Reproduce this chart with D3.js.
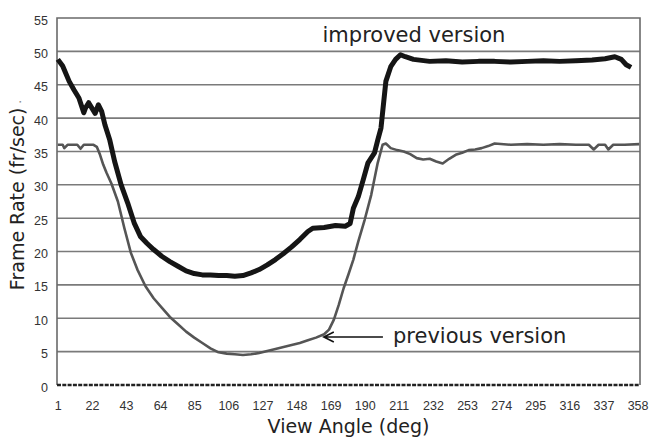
<!DOCTYPE html>
<html>
<head>
<meta charset="utf-8">
<script src="https://cdn.jsdelivr.net/npm/d3@7"></script>
<style>
  body { margin: 0; background: #fff; }
  svg { display: block; }
  .tick text { font-family: "Liberation Sans", Arial, sans-serif; font-size: 12.5px; fill: #333; }
  .title { font-family: "DejaVu Sans", sans-serif; font-size: 19px; fill: #222; }
  .note { font-family: "DejaVu Sans", sans-serif; font-size: 21px; fill: #222; }
</style>
</head>
<body>
<svg id="chart" width="649" height="438"></svg>
<script>
// view angles (deg) and frame rates (fr/sec)
const improvedAngle = [1, 4, 8, 11, 14, 17, 18, 20, 22, 24, 26, 28, 30, 33, 36, 40, 44, 48, 52, 56,
  60, 65, 70, 75, 80, 85, 90, 95, 100, 105, 110, 115, 120, 125, 130, 135, 140, 145, 150, 155,
  158, 165, 172, 178, 181, 183, 186, 189, 192, 196, 198, 200, 203, 206, 209, 212, 215, 220, 230,
  240, 250, 260, 270, 280, 290, 300, 310, 320, 330, 338, 344, 348, 351, 354];
const improvedRate = [48.8, 47.8, 45.5, 44.2, 43, 40.8, 41.5, 42.3, 41.5, 40.7, 42, 41, 39, 36.7, 33.5, 30, 27.3, 24.3, 22.2, 21.2,
  20.3, 19.3, 18.5, 17.8, 17.1, 16.7, 16.5, 16.5, 16.4, 16.4, 16.3, 16.4, 16.8, 17.3, 18, 18.8, 19.7, 20.7, 21.8, 23,
  23.5, 23.6, 23.9, 23.8, 24.2, 26.5, 28.2, 30.7, 33.3, 34.8, 36.7, 38.5, 45.5, 47.7, 48.8, 49.5, 49.2, 48.8, 48.5,
  48.6, 48.4, 48.5, 48.5, 48.4, 48.5, 48.6, 48.5, 48.6, 48.7, 48.9, 49.2, 48.8, 48, 47.6];

const previousAngle = [1, 4, 5, 7, 10, 13, 15, 17, 20, 23, 25, 27, 29, 31, 34, 38, 42, 46, 50, 55,
  60, 65, 70, 75, 80, 85, 90, 95, 100, 105, 110, 115, 120, 125, 130, 135, 140, 145, 150, 155,
  160, 165, 168, 171, 174, 177, 180, 183, 186, 190, 194, 198, 201, 203, 206, 210, 214, 218, 222,
  226, 230, 234, 238, 242, 246, 250, 254, 258, 262, 266, 270, 280, 290, 300, 310, 320, 328, 331,
  334, 338, 340, 343, 350, 359];
const previousRate = [36, 36, 35.5, 36, 36, 36, 35.4, 36, 36, 36, 35.7, 34.5, 33, 31.8, 30.2, 27.5, 23.5, 19.8, 17.3, 14.8,
  13, 11.6, 10.2, 9.1, 8, 7.1, 6.3, 5.5, 4.9, 4.7, 4.6, 4.5, 4.6, 4.8, 5.1, 5.4, 5.7, 6, 6.3, 6.7,
  7.1, 7.6, 8.3, 9.8, 12, 14.5, 16.6, 18.8, 21.5, 24.8, 28.5, 33.3, 36, 36.2, 35.5, 35.2, 35, 34.6, 34,
  33.8, 33.9, 33.5, 33.2, 33.9, 34.5, 34.8, 35.2, 35.3, 35.5, 35.8, 36.2, 36, 36.1, 36, 36.1, 36, 36, 35.3,
  36, 36, 35.3, 36, 36, 36.1];

const xTicks = d3.range(1, 359, 21);   // 1, 22, ... 358
const yTicks = d3.range(0, 56, 5);

const svg = d3.select("#chart");
const margin = { top: 18, right: 9, bottom: 53, left: 57 };
const W = 649, H = 438;

const x = d3.scaleLinear().domain([0.5, 359.5]).range([margin.left, W - margin.right]);
const y = d3.scaleLinear().domain([0, 55]).range([H - margin.bottom, margin.top]);

// gridlines
svg.append("g")
  .selectAll("line")
  .data(yTicks.filter(d => d > 0 && d < 55))
  .join("line")
  .attr("x1", x.range()[0]).attr("x2", x.range()[1])
  .attr("y1", d => y(d)).attr("y2", d => y(d))
  .attr("stroke", "#7a7a7a")
  .attr("stroke-width", 1.6);

// plot frame (top, left, right)
svg.append("path")
  .attr("d", `M${x.range()[0]},${y(0)}V${y(55)}H${x.range()[1]}V${y(0)}`)
  .attr("fill", "none")
  .attr("stroke", "#6a6a6a")
  .attr("stroke-width", 1.6);

// category axis line (dense ticks look dashed)
svg.append("line")
  .attr("x1", x.range()[0]).attr("x2", x.range()[1])
  .attr("y1", y(0)).attr("y2", y(0))
  .attr("stroke", "#222")
  .attr("stroke-width", 2.5)
  .attr("stroke-dasharray", "4,1.3");

// axes
const gx = svg.append("g")
  .attr("transform", `translate(0,${y(0) + 16})`)
  .call(d3.axisBottom(x).tickValues(xTicks).tickSize(0).tickPadding(0));
gx.select(".domain").remove();

const gy = svg.append("g")
  .attr("transform", `translate(${margin.left - 9},2)`)
  .call(d3.axisLeft(y).tickValues(yTicks).tickSize(0).tickPadding(0));
gy.select(".domain").remove();

// series
const line = d3.line().x(d => x(d[0])).y(d => y(d[1]));

svg.append("path")
  .datum(d3.zip(previousAngle, previousRate))
  .attr("d", line)
  .attr("fill", "none")
  .attr("stroke", "#555")
  .attr("stroke-width", 2.6)
  .attr("stroke-linejoin", "round");

svg.append("path")
  .datum(d3.zip(improvedAngle, improvedRate))
  .attr("d", line)
  .attr("fill", "none")
  .attr("stroke", "#151515")
  .attr("stroke-width", 5)
  .attr("stroke-linejoin", "round");

// annotations
svg.append("text")
  .attr("class", "note")
  .attr("x", x(164))
  .attr("y", 42)
  .text("improved version");

svg.append("text")
  .attr("class", "note")
  .attr("x", x(207.4))
  .attr("y", 343)
  .text("previous version");

const ay = y(7.2), ax0 = x(201.2), ax1 = x(164.8);
svg.append("path")
  .attr("d", `M${ax0},${ay}H${ax1}M${ax1 + 10},${ay - 5}L${ax1},${ay}L${ax1 + 10},${ay + 5}`)
  .attr("fill", "none")
  .attr("stroke", "#111")
  .attr("stroke-width", 1.6);

// axis titles
svg.append("text")
  .attr("class", "title")
  .attr("text-anchor", "middle")
  .attr("x", (x.range()[0] + x.range()[1]) / 2)
  .attr("y", 433)
  .text("View Angle (deg)");

svg.append("text")
  .attr("class", "title")
  .attr("text-anchor", "middle")
  .attr("transform", "translate(24,195) rotate(-90)")
  .text("Frame Rate (fr/sec)")
  .append("tspan")
  .attr("font-size", 12)
  .attr("fill", "#777")
  .attr("dy", -3)
  .text(" .");
</script>
</body>
</html>
